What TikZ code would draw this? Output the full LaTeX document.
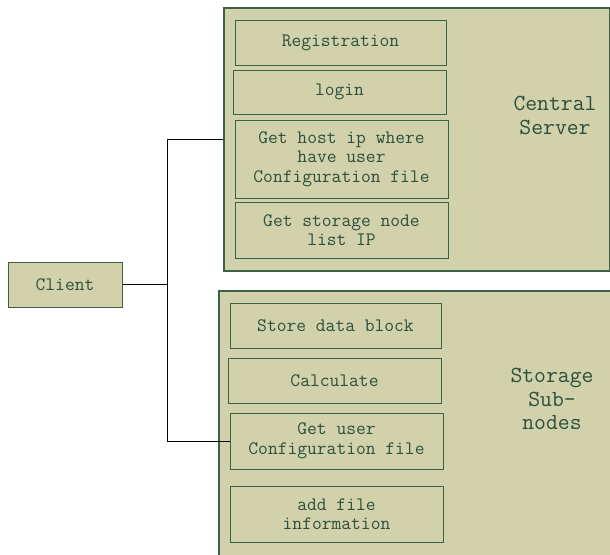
\documentclass[tikz,border=0pt]{standalone}
\usepackage{fontspec}
\definecolor{panelfill}{RGB}{209,209,171}
\definecolor{edgegreen}{RGB}{62,96,70}
\definecolor{labelgreen}{RGB}{45,78,58}
\tikzset{
  panel/.style={draw=edgegreen, fill=panelfill, line width=1.1pt, inner sep=0pt},
  task/.style={draw=edgegreen, fill=panelfill, line width=1pt, inner sep=0pt,
    align=center, text=labelgreen, font=\ttfamily\fontsize{19}{19.5}\selectfont},
  bigtitle/.style={align=center, text=labelgreen, inner sep=0pt,
    font=\ttfamily\fontsize{23}{23.5}\selectfont},
  link/.style={draw=black, line width=1pt}
}
\begin{document}
\begin{tikzpicture}[x=1pt, y=-1pt]
\useasboundingbox (0,0) rectangle (610,554);
\clip (0,0) rectangle (610,554);

% server-side panel
\node[panel, minimum width=386pt, minimum height=263pt] (central) at (417,139.5) {};
\node[bigtitle] (centraltitle) at (555,115.5) {Central\\Server};
\node[task, minimum width=211pt, minimum height=45pt] (reg) at (340.5,42.5) {Registration};
\node[task, minimum width=213pt, minimum height=44pt] (login) at (339.5,92) {login};
\node[task, minimum width=213pt, minimum height=78pt] (gethost) at (341.5,159)
  {Get host ip where\\have user\\Configuration file};
\node[task, minimum width=213pt, minimum height=56pt] (getlist) at (341.5,230)
  {Get storage node\\list IP};

% storage panel
\node[panel, minimum width=392pt, minimum height=265pt] (storage) at (415,423.5) {};
\node[bigtitle] (storagetitle) at (552,399) {Storage\\Sub-\\nodes};
\node[task, minimum width=211pt, minimum height=45pt] (store) at (335.5,325.5) {Store data block};
\node[task, minimum width=213pt, minimum height=45pt] (calc) at (334.5,380.5) {Calculate};
\node[task, minimum width=213pt, minimum height=56pt] (getuser) at (336.5,441)
  {Get user\\Configuration file};
\node[task, minimum width=213pt, minimum height=56pt] (addfile) at (336.5,514)
  {add file\\information};

% client and its connections
\node[task, minimum width=114pt, minimum height=45pt] (client) at (65,284.5) {Client};
\coordinate (split) at (167,284.5);
\draw[link] (client.east) -- (split);
\draw[link] (central.west) -| (split);
\draw[link] (getuser.west) -| (split);
\end{tikzpicture}
\end{document}
